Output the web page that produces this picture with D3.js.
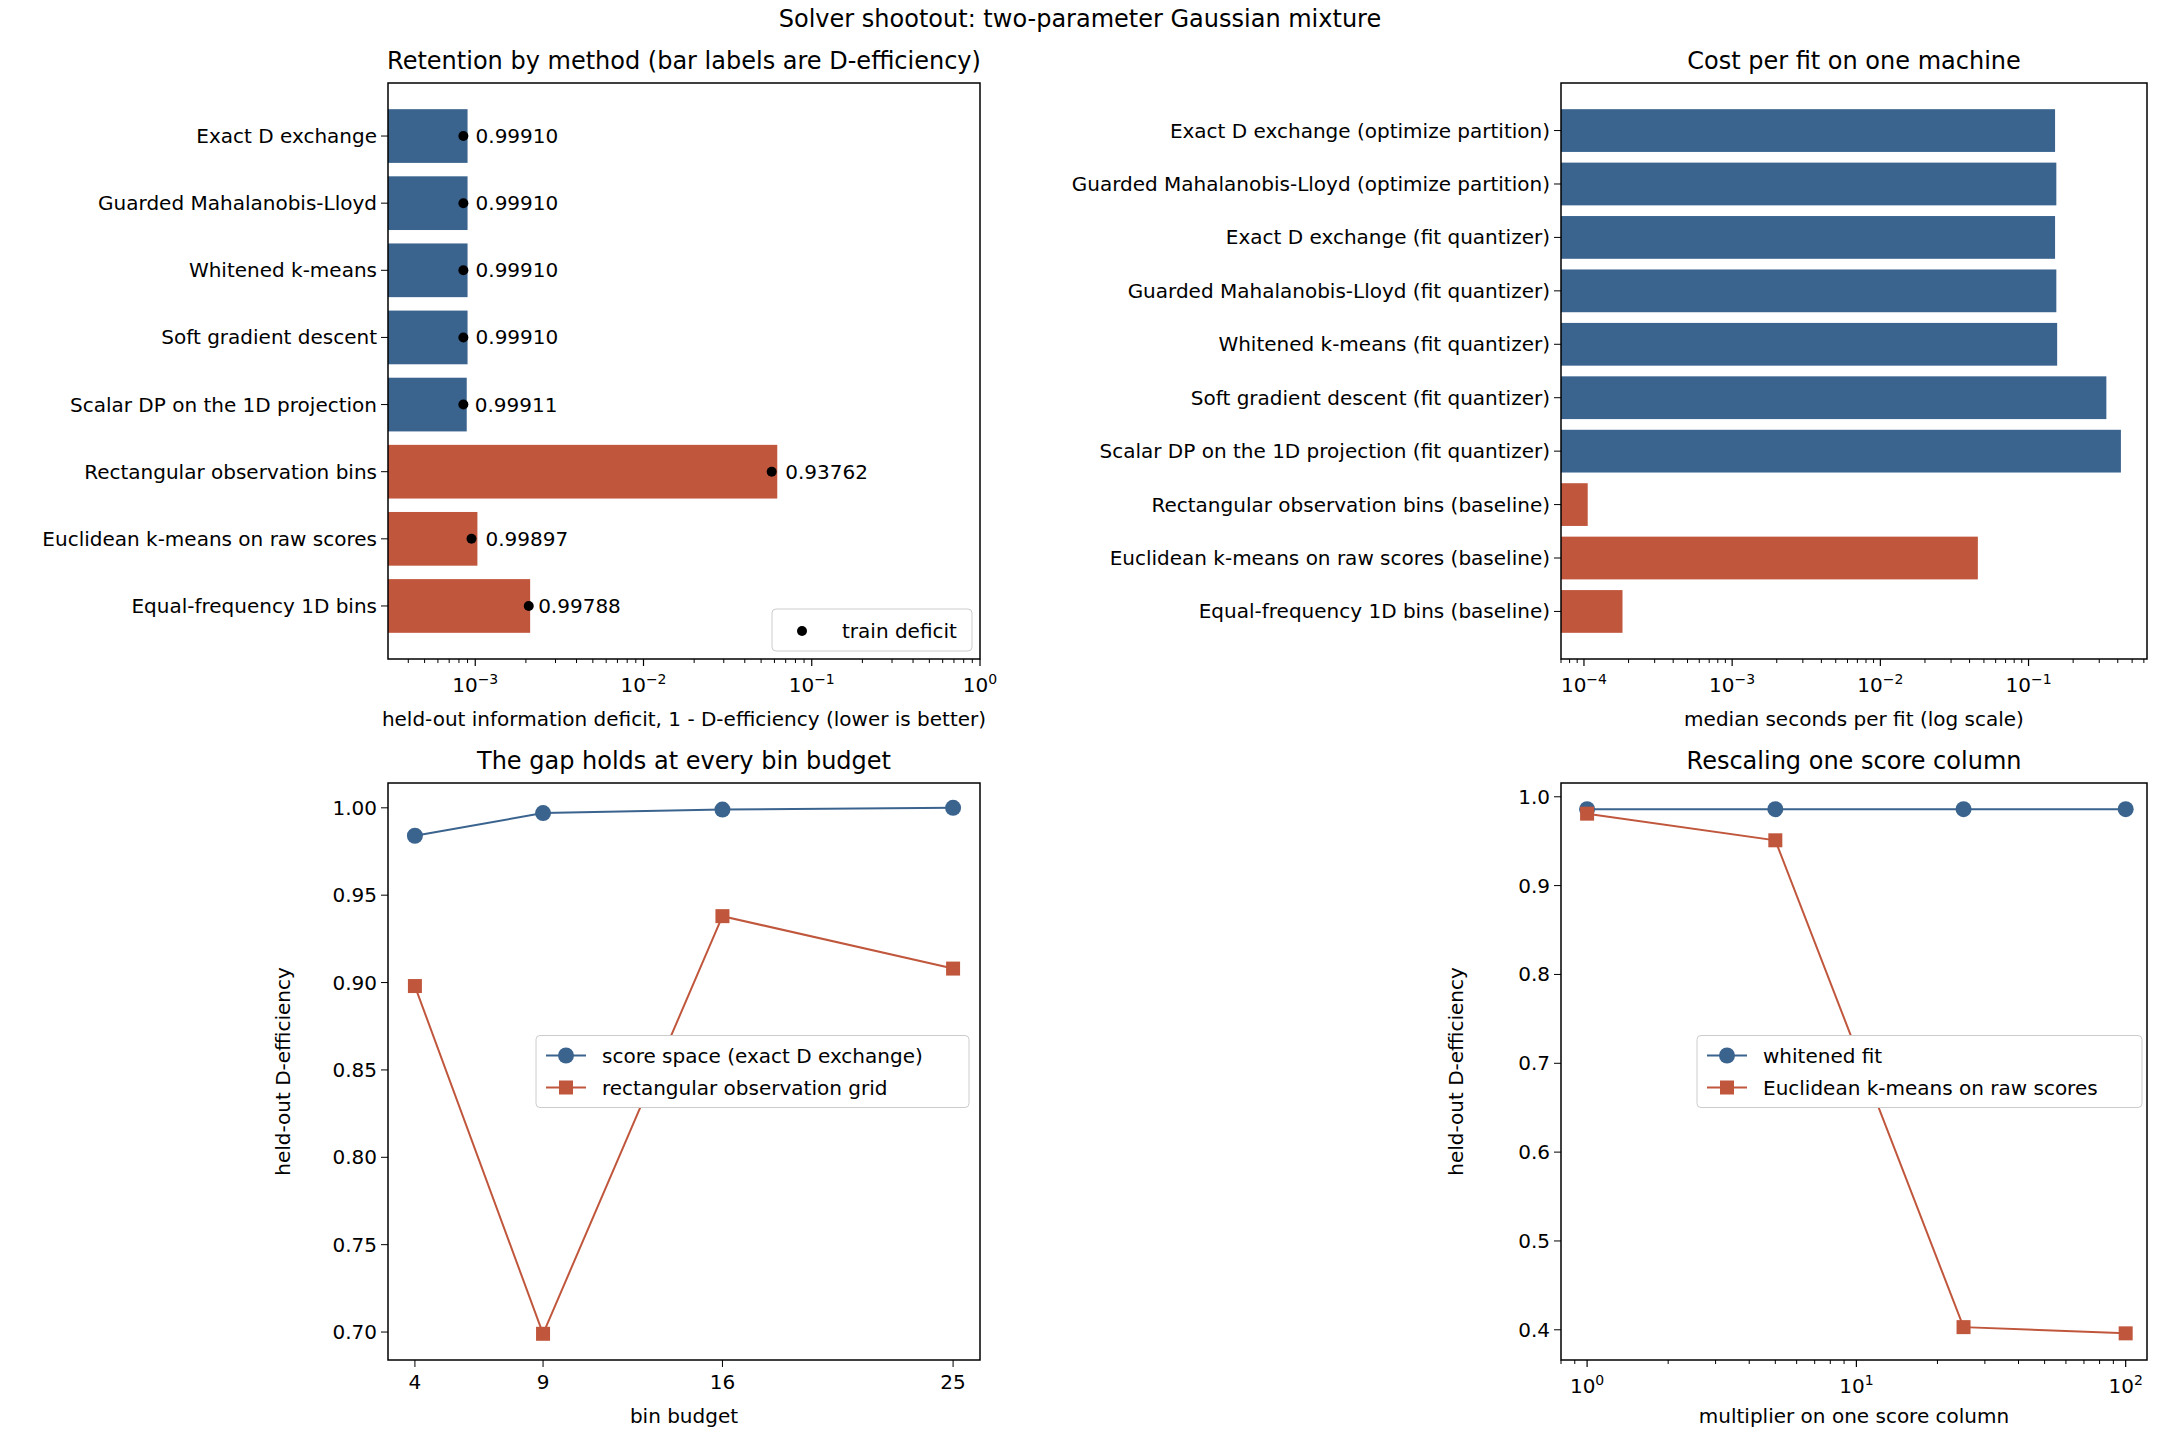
<!DOCTYPE html>
<meta charset="utf-8">
<script src="https://d3js.org/d3.v7.min.js"></script>
<style>
  body { margin: 0; background: #fff; }
  text { font-family: "DejaVu Sans", sans-serif; fill: #000; }
</style>
<body>
<script>
// ---- data ----
var retMethods = ["Exact D exchange", "Guarded Mahalanobis-Lloyd", "Whitened k-means", "Soft gradient descent",
  "Scalar DP on the 1D projection", "Rectangular observation bins", "Euclidean k-means on raw scores", "Equal-frequency 1D bins"];
var retDeficit = [0.00090, 0.00090, 0.00090, 0.00090, 0.00089, 0.06238, 0.00103, 0.00212];
var retTrain = [0.00085, 0.00085, 0.00085, 0.00085, 0.00085, 0.0578, 0.00095, 0.00208];
var retLabels = ["0.99910", "0.99910", "0.99910", "0.99910", "0.99911", "0.93762", "0.99897", "0.99788"];
var retGroup = ["s", "s", "s", "s", "s", "b", "b", "b"];

var costMethods = ["Exact D exchange (optimize partition)", "Guarded Mahalanobis-Lloyd (optimize partition)",
  "Exact D exchange (fit quantizer)", "Guarded Mahalanobis-Lloyd (fit quantizer)", "Whitened k-means (fit quantizer)",
  "Soft gradient descent (fit quantizer)", "Scalar DP on the 1D projection (fit quantizer)",
  "Rectangular observation bins (baseline)", "Euclidean k-means on raw scores (baseline)", "Equal-frequency 1D bins (baseline)"];
var costSeconds = [0.151, 0.154, 0.151, 0.154, 0.156, 0.335, 0.42, 0.000106, 0.0455, 0.000182];
var costGroup = ["s", "s", "s", "s", "s", "s", "s", "b", "b", "b"];

var budgets = [4, 9, 16, 25];
var budgetScore = [0.984, 0.997, 0.999, 1.000];
var budgetRect = [0.898, 0.699, 0.938, 0.908];

var multipliers = [1, 5, 25, 100];
var multWhitened = [0.986, 0.986, 0.986, 0.986];
var multEuclid = [0.981, 0.951, 0.403, 0.396];

var BLUE = "#3a638e", RED = "#c0573d";
var W = 2160, H = 1440;
var svg = d3.select("body").append("svg").attr("width", W).attr("height", H);

svg.append("text").attr("x", W / 2).attr("y", 27).attr("text-anchor", "middle")
  .style("font-size", "24px").text("Solver shootout: two-parameter Gaussian mixture");

function sup(sel) {
  sel.each(function(d) {
    var t = d3.select(this), e = Math.round(Math.log10(d));
    t.text("10");
    t.append("tspan").attr("dy", "-0.6em").style("font-size", "14px").text(String(e).replace("-", "\u2212"));
  });
}

function frame(g, w, h) {
  g.append("rect").attr("width", w).attr("height", h).attr("fill", "none").attr("stroke", "#000").attr("stroke-width", 1.5);
}

function logXAxis(g, x, h, lo, hi) {
  var minors = [];
  for (var e = lo; e <= hi; e++) for (var k = 1; k < 10; k++) {
    var v = k * Math.pow(10, e);
    if (v >= x.domain()[0] && v <= x.domain()[1]) minors.push({v: v, major: k === 1});
  }
  g.selectAll(".mt").data(minors).enter().append("line")
    .attr("x1", d => x(d.v)).attr("x2", d => x(d.v)).attr("y1", h).attr("y2", d => h + (d.major ? 7 : 4))
    .attr("stroke", "#000").attr("stroke-width", d => d.major ? 1.2 : 1);
  g.selectAll(".ml").data(minors.filter(d => d.major)).enter().append("text")
    .attr("x", d => x(d.v)).attr("y", h + 33).attr("text-anchor", "middle").style("font-size", "20px")
    .datum(d => d.v).call(sup);
}

function catYAxis(g, y, names) {
  names.forEach(function(n, i) {
    g.append("line").attr("x1", -7).attr("x2", 0).attr("y1", y(i)).attr("y2", y(i)).attr("stroke", "#000");
    g.append("text").attr("x", -11).attr("y", y(i)).attr("dy", "0.35em").attr("text-anchor", "end")
      .style("font-size", "20px").text(n);
  });
}

// ---- panel 1: retention ----
(function() {
  var L = 388, T = 83, w = 592, h = 576;
  var g = svg.append("g").attr("transform", "translate(" + L + "," + T + ")");
  var x = d3.scaleLog().domain([3.03e-4, 1]).range([0, w]);
  var y = d3.scaleLinear().domain([-0.79, 7.79]).range([0, h]);
  var bh = y(0.8) - y(0);
  g.selectAll(".bar").data(retDeficit).enter().append("rect")
    .attr("x", 0).attr("y", (d, i) => y(i) - bh / 2).attr("width", d => x(d)).attr("height", bh)
    .attr("fill", (d, i) => retGroup[i] === "s" ? BLUE : RED);
  g.selectAll(".dot").data(retTrain).enter().append("circle")
    .attr("cx", d => x(d)).attr("cy", (d, i) => y(i)).attr("r", 5).attr("fill", "#000");
  g.selectAll(".lab").data(retLabels).enter().append("text")
    .attr("x", (d, i) => x(retDeficit[i]) + 8).attr("y", (d, i) => y(i)).attr("dy", "0.35em")
    .style("font-size", "20px").text(d => d);
  frame(g, w, h);
  logXAxis(g, x, h, -4, 0);
  catYAxis(g, y, retMethods);
  g.append("text").attr("x", w / 2).attr("y", h + 67).attr("text-anchor", "middle").style("font-size", "20px")
    .text("held-out information deficit, 1 - D-efficiency (lower is better)");
  g.append("text").attr("x", w / 2).attr("y", -14).attr("text-anchor", "middle").style("font-size", "24px")
    .text("Retention by method (bar labels are D-efficiency)");
  var lg = g.append("g").attr("transform", "translate(" + (w - 208) + "," + (h - 50) + ")");
  lg.append("rect").attr("width", 200).attr("height", 42).attr("rx", 4).attr("fill", "#fff").attr("stroke", "#ccc");
  lg.append("circle").attr("cx", 30).attr("cy", 22).attr("r", 5).attr("fill", "#000");
  lg.append("text").attr("x", 70).attr("y", 22).attr("dy", "0.35em").style("font-size", "20px").text("train deficit");
})();

// ---- panel 2: cost ----
(function() {
  var L = 1561, T = 83, w = 586, h = 576;
  var g = svg.append("g").attr("transform", "translate(" + L + "," + T + ")");
  var x = d3.scaleLog().domain([7.0e-5, 0.63]).range([0, w]);
  var y = d3.scaleLinear().domain([-0.89, 9.89]).range([0, h]);
  var bh = y(0.8) - y(0);
  g.selectAll(".bar").data(costSeconds).enter().append("rect")
    .attr("x", 0).attr("y", (d, i) => y(i) - bh / 2).attr("width", d => x(d)).attr("height", bh)
    .attr("fill", (d, i) => costGroup[i] === "s" ? BLUE : RED);
  frame(g, w, h);
  logXAxis(g, x, h, -5, 0);
  catYAxis(g, y, costMethods);
  g.append("text").attr("x", w / 2).attr("y", h + 67).attr("text-anchor", "middle").style("font-size", "20px")
    .text("median seconds per fit (log scale)");
  g.append("text").attr("x", w / 2).attr("y", -14).attr("text-anchor", "middle").style("font-size", "24px")
    .text("Cost per fit on one machine");
})();

function linePanel(L, x, yDom, yTicks, yFmt, xs, s1, s2, names, title, xlabel, legX, legW, xTickFn) {
  var T = 783, w = (L === 388 ? 592 : 586), h = 577;
  x.range([0, w]);
  var g = svg.append("g").attr("transform", "translate(" + L + "," + T + ")");
  var y = d3.scaleLinear().domain(yDom).range([h, 0]);
  var line = d3.line().x((d, i) => x(xs[i])).y(d => y(d));
  g.append("path").datum(s1).attr("d", line).attr("fill", "none").attr("stroke", BLUE).attr("stroke-width", 2);
  g.append("path").datum(s2).attr("d", line).attr("fill", "none").attr("stroke", RED).attr("stroke-width", 2);
  g.selectAll(".p1").data(s1).enter().append("circle").attr("cx", (d, i) => x(xs[i])).attr("cy", d => y(d))
    .attr("r", 8).attr("fill", BLUE);
  g.selectAll(".p2").data(s2).enter().append("rect").attr("x", (d, i) => x(xs[i]) - 7).attr("y", d => y(d) - 7)
    .attr("width", 14).attr("height", 14).attr("fill", RED);
  frame(g, w, h);
  yTicks.forEach(function(t) {
    g.append("line").attr("x1", -7).attr("x2", 0).attr("y1", y(t)).attr("y2", y(t)).attr("stroke", "#000");
    g.append("text").attr("x", -11).attr("y", y(t)).attr("dy", "0.35em").attr("text-anchor", "end")
      .style("font-size", "20px").text(yFmt(t));
  });
  xTickFn(g, x, h);
  g.append("text").attr("transform", "translate(-98," + h / 2 + ") rotate(-90)").attr("text-anchor", "middle")
    .style("font-size", "20px").text("held-out D-efficiency");
  g.append("text").attr("x", w / 2).attr("y", h + 63).attr("text-anchor", "middle").style("font-size", "20px").text(xlabel);
  g.append("text").attr("x", w / 2).attr("y", -14).attr("text-anchor", "middle").style("font-size", "24px").text(title);
  var lg = g.append("g").attr("transform", "translate(" + legX + "," + (h / 2 - 36) + ")");
  lg.append("rect").attr("width", legW).attr("height", 72).attr("rx", 4).attr("fill", "#fff").attr("stroke", "#ccc");
  lg.append("line").attr("x1", 10).attr("x2", 50).attr("y1", 20).attr("y2", 20).attr("stroke", BLUE).attr("stroke-width", 2);
  lg.append("circle").attr("cx", 30).attr("cy", 20).attr("r", 8).attr("fill", BLUE);
  lg.append("line").attr("x1", 10).attr("x2", 50).attr("y1", 52).attr("y2", 52).attr("stroke", RED).attr("stroke-width", 2);
  lg.append("rect").attr("x", 23).attr("y", 45).attr("width", 14).attr("height", 14).attr("fill", RED);
  lg.append("text").attr("x", 66).attr("y", 20).attr("dy", "0.35em").style("font-size", "20px").text(names[0]);
  lg.append("text").attr("x", 66).attr("y", 52).attr("dy", "0.35em").style("font-size", "20px").text(names[1]);
}

// ---- panel 3: bin budget ----
linePanel(388, d3.scaleLinear().domain([2.95, 26.05]), [0.684, 1.0142], [0.70, 0.75, 0.80, 0.85, 0.90, 0.95, 1.00],
  d3.format(".2f"), budgets, budgetScore, budgetRect,
  ["score space (exact D exchange)", "rectangular observation grid"],
  "The gap holds at every bin budget", "bin budget", 148, 433,
  function(g, x, h) {
    budgets.forEach(function(b) {
      g.append("line").attr("x1", x(b)).attr("x2", x(b)).attr("y1", h).attr("y2", h + 7).attr("stroke", "#000");
      g.append("text").attr("x", x(b)).attr("y", h + 29).attr("text-anchor", "middle").style("font-size", "20px").text(b);
    });
  });

// ---- panel 4: rescaling ----
linePanel(1561, d3.scaleLog().domain([0.8, 120]), [0.366, 1.0155], [0.4, 0.5, 0.6, 0.7, 0.8, 0.9, 1.0],
  d3.format(".1f"), multipliers, multWhitened, multEuclid,
  ["whitened fit", "Euclidean k-means on raw scores"],
  "Rescaling one score column", "multiplier on one score column", 136, 445,
  function(g, x, h) { logXAxis(g, x, h, -1, 2); });
</script>
</body>
